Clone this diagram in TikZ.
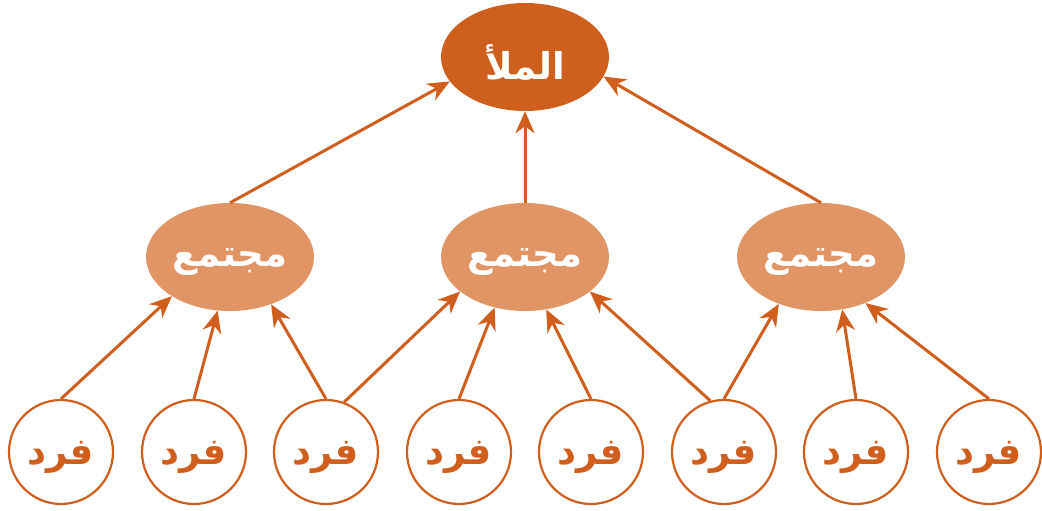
\documentclass[tikz,border=0pt]{standalone}
\usepackage{fontspec}
\newfontfamily\arabicfont[Script=Arabic]{DejaVu Sans}
\TeXXeTstate=1
\usetikzlibrary{shapes.geometric,arrows.meta}
\definecolor{topfill}{HTML}{CF5F1C}
\definecolor{midfill}{HTML}{E19565}
\definecolor{stroke}{HTML}{D05E1C}
\newcommand{\labfont}{\arabicfont\bfseries\fontsize{37}{40}\selectfont}
\newcommand{\arlab}[1]{\raisebox{-5pt}[\height][\depth]{\beginR #1\endR}}
\tikzset{
  x=1pt, y=-1pt,
  topnode/.style={ellipse, fill=topfill, minimum width=168pt, minimum height=108pt, inner sep=0pt,
    text=white, font=\labfont},
  midnode/.style={ellipse, fill=midfill, minimum width=168pt, minimum height=108pt, inner sep=0pt,
    text=white, font=\labfont},
  leafnode/.style={circle, draw=stroke, line width=2.2pt, fill=white, minimum size=104pt, inner sep=0pt,
    text=stroke, font=\labfont},
  link/.style={draw=stroke, line width=3pt, -{Stealth[length=22pt,width=19pt,inset=7pt]}}
}
\begin{document}
\begin{tikzpicture}
\useasboundingbox (0,0) rectangle (1042,511);
\node[topnode] (top) at (525,57) {\arlab{الملأ}};
\node[midnode] (m1) at (230,257) {\arlab{مجتمع}};
\node[midnode] (m2) at (525,257) {\arlab{مجتمع}};
\node[midnode] (m3) at (821,257) {\arlab{مجتمع}};
\foreach \i/\x in {1/61,2/194,3/326,4/459,5/591,6/724,7/856,8/989}{
  \node[leafnode] (c\i) at (\x,452) {\arlab{فرد}};
}
\draw[link] (m1.north) -- (top.198);
\draw[link] (m2.north) -- (top.south);
\draw[link] (m3.north) -- (top.346);
\draw[link] (c1.north) -- (m1.214);
\draw[link] (c2.north) -- (m1.257);
\draw[link] (c3.north) -- (m1.311);
\draw[link] (c3.70) -- (m2.208);
\draw[link] (c4.north) -- (m2.239);
\draw[link] (c5.north) -- (m2.292);
\draw[link] (c6.105) -- (m2.332);
\draw[link] (c6.north) -- (m3.228);
\draw[link] (c7.north) -- (m3.292);
\draw[link] (c8.north) -- (m3.314);
\end{tikzpicture}
\end{document}
